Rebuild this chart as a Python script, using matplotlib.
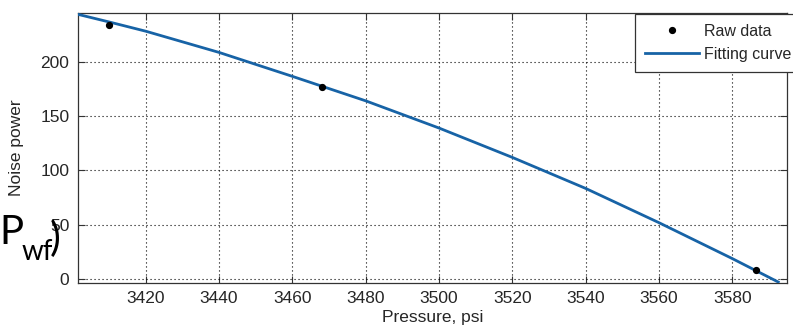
import matplotlib
matplotlib.use("Agg")
import matplotlib.pyplot as plt

# ---- data ----
raw_pressure = [3410.0, 3468.0, 3586.5]
raw_noise = [233.8, 177.0, 8.5]

fit_pressure = [3401.5, 3410, 3420, 3440, 3460, 3480, 3500, 3520, 3540, 3560, 3580, 3592.5]
fit_noise = [243.5, 236.5, 228.0, 208.5, 186.5, 164.0, 139.0, 112.0, 83.5, 52.0, 19.0, -2.5]

x_ticks = [3420, 3440, 3460, 3480, 3500, 3520, 3540, 3560, 3580]
y_ticks = [0, 50, 100, 150, 200]

W, H = 793, 330
plt.rcParams['font.family'] = ['Liberation Sans', 'DejaVu Sans']
fig = plt.figure(figsize=(W / 100, H / 100), dpi=100)
ax = fig.add_axes([77.7 / W, 1 - 282.7 / H, (786.7 - 77.7) / W, (282.7 - 12.7) / H])

txt_color = '#262626'
ax.plot(fit_pressure, fit_noise, color='#1763a6', lw=2.0, solid_joinstyle='round',
        label='Fitting curve', zorder=3)
ax.plot(raw_pressure, raw_noise, 'o', color='black', ms=4.2, ls='none',
        label='Raw data', zorder=4)

ax.set_xlim(3401.45, 3594.8)
ax.set_ylim(-3.1, 245)
ax.set_xticks(x_ticks)
ax.set_yticks(y_ticks)
ax.grid(True, color='black', linestyle=(0, (1, 2.6)), linewidth=0.8)
ax.tick_params(direction='in', length=5, width=0.8, top=True, right=True,
               labelsize=12.5, labelcolor=txt_color, colors='#333333')
ax.tick_params(axis='x', pad=6)
ax.tick_params(axis='y', pad=6)
for s in ax.spines.values():
    s.set_linewidth(0.9)
    s.set_color('#333333')

ax.set_xlabel('Pressure, psi', fontsize=12.5, color=txt_color, labelpad=3)
ax.set_ylabel('Noise power', fontsize=12.5, color=txt_color, labelpad=12)

handles, labels = ax.get_legend_handles_labels()
leg = fig.legend([handles[1], handles[0]], [labels[1], labels[0]],
                 loc='upper left', bbox_to_anchor=(635 / W, 1 - 14 / H),
                 fontsize=11.5, frameon=True, fancybox=False, framealpha=1,
                 edgecolor='#333333', handlelength=3.4, handletextpad=0.3,
                 borderpad=0.62, labelspacing=0.5, borderaxespad=0)
leg.get_frame().set_linewidth(0.9)
for t in leg.get_texts():
    t.set_color(txt_color)

# overlay text from the slide
fam = ['Lato', 'DejaVu Sans']
fig.text(-1 / W, 1 - 244 / H, 'P', fontsize=29, family=fam, color='black', va='baseline', ha='left')
fig.text(22 / W, 1 - 260 / H, 'wf', fontsize=20, family=fam, color='black', va='baseline', ha='left')
fig.text(50 / W, 1 - 251 / H, ')', fontsize=29, family=fam, color='black', va='baseline', ha='left')

fig.savefig('out.png', dpi=100)
